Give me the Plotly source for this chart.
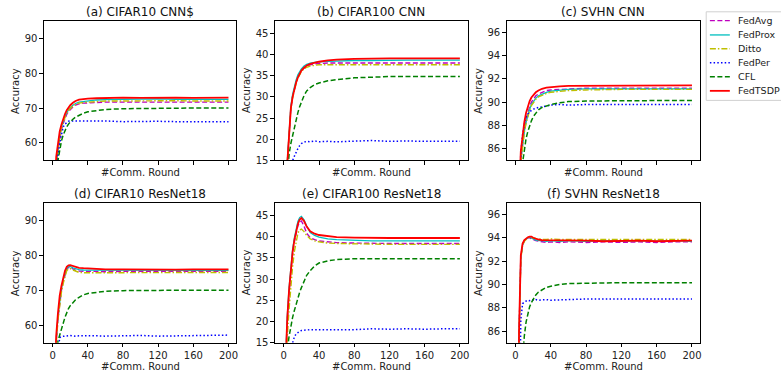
import plotly.graph_objects as go

W, H = 783, 380

# ---------------- data ----------------
ROUNDS = [1, 2, 4, 6, 8, 10, 12, 14, 16, 18, 20, 23, 26, 30, 35, 40, 50, 60, 80, 100, 120, 140, 160, 180, 200]
METHODS = ["FedAvg", "FedProx", "Ditto", "FedPer", "CFL", "FedTSDP"]
PANEL_TITLES = ["(a) CIFAR10 CNN$", "(b) CIFAR100 CNN", "(c) SVHN CNN",
                "(d) CIFAR10 ResNet18", "(e) CIFAR100 ResNet18", "(f) SVHN ResNet18"]
X_TICKS = [0, 40, 80, 120, 160, 200]
Y_TICKS_CIFAR10 = [60, 70, 80, 90]
Y_TICKS_CIFAR100 = [15, 20, 25, 30, 35, 40, 45]
Y_TICKS_SVHN = [86, 88, 90, 92, 94, 96]

# (a) CIFAR10 CNN
a_fedavg = [27, 41, 53, 58, 61.5, 63.8, 65.6, 67, 68.2, 69, 69.6, 70.3, 70.8, 71.2, 71.4, 71.5, 71.6, 71.7, 71.7, 71.7, 71.8, 71.7, 71.7, 71.7, 71.7]
a_fedprox = [28, 42, 54, 59, 62.3, 64.5, 66.2, 67.6, 68.7, 69.5, 70.1, 70.8, 71.3, 71.7, 71.9, 72.1, 72.3, 72.4, 72.5, 72.5, 72.6, 72.5, 72.5, 72.5, 72.5]
a_ditto = [27, 41, 53.5, 58.5, 62, 64.2, 66, 67.4, 68.5, 69.3, 69.9, 70.6, 71.0, 71.4, 71.6, 71.7, 71.9, 72.0, 72.0, 72.1, 72.0, 72.1, 72.0, 72.0, 72.0]
a_fedper = [15, 25, 45, 56.5, 60, 62.8, 64.6, 65.4, 65.9, 66.2, 66.3, 66.3, 66.4, 66.3, 66.2, 66.2, 66.2, 66.3, 66.1, 66.2, 66.2, 66.1, 66.2, 66.1, 66.1]
a_cfl = [20, 30, 45, 55, 58.5, 60.6, 62.3, 63.6, 64.6, 65.4, 66, 66.8, 67.4, 68, 68.5, 68.9, 69.3, 69.6, 69.8, 69.9, 69.9, 70, 70, 70, 70]
a_fedtsdp = [30, 45, 56, 60.5, 63.3, 65.3, 67, 68.3, 69.4, 70.2, 70.8, 71.5, 72.0, 72.4, 72.6, 72.7, 72.8, 72.9, 73.0, 72.9, 73.0, 73.0, 72.9, 73.0, 73.0]

# (b) CIFAR100 CNN
b_fedavg = [5, 8, 15.2, 21.8, 27.2, 30, 32, 33.4, 34.6, 35.5, 36.2, 36.8, 37.2, 37.6, 37.8, 37.9, 38.0, 38.0, 38.0, 38.0, 38.0, 38.0, 38.0, 38.0, 38.0]
b_fedprox = [5, 8, 15.8, 22.5, 27.8, 30.6, 32.6, 34, 35.2, 36, 36.6, 37.3, 37.7, 38.0, 38.2, 38.3, 38.4, 38.5, 38.6, 38.6, 38.7, 38.7, 38.7, 38.7, 38.7]
b_ditto = [5, 8, 15, 21.5, 27, 29.8, 31.8, 33.2, 34.4, 35.3, 36, 36.6, 37.0, 37.3, 37.5, 37.6, 37.6, 37.6, 37.6, 37.6, 37.6, 37.6, 37.6, 37.6, 37.6]
b_fedper = [3, 5, 8, 10.5, 13, 15, 16, 17, 17.8, 18.5, 19, 19.3, 19.5, 19.4, 19.6, 19.4, 19.5, 19.4, 19.6, 19.7, 19.5, 19.6, 19.5, 19.5, 19.5]
b_cfl = [3, 6, 13, 16.5, 19, 21, 22.6, 24.5, 26.3, 27.7, 28.9, 30.3, 31.4, 32.2, 32.9, 33.3, 33.8, 34.1, 34.5, 34.7, 34.8, 34.8, 34.8, 34.8, 34.8]
b_fedtsdp = [5, 8, 15.5, 22, 27.3, 30, 32, 33.4, 34.6, 35.5, 36.2, 36.9, 37.4, 37.8, 38.1, 38.3, 38.6, 38.8, 39.0, 39.1, 39.1, 39.1, 39.1, 39.1, 39.1]

# (c) SVHN CNN
c_fedavg = [68, 73, 80, 85.2, 86.7, 87.7, 88.5, 89.1, 89.6, 90.0, 90.25, 90.55, 90.7, 90.85, 91.0, 91.05, 91.1, 91.15, 91.2, 91.2, 91.2, 91.2, 91.2, 91.2, 91.2]
c_fedprox = [68, 73, 80, 85, 86.5, 87.5, 88.3, 88.9, 89.4, 89.8, 90.05, 90.35, 90.55, 90.7, 90.85, 90.95, 91.05, 91.1, 91.15, 91.15, 91.15, 91.15, 91.15, 91.15, 91.15]
c_ditto = [68, 73, 80, 84.8, 86.4, 87.4, 88.2, 88.8, 89.3, 89.7, 89.95, 90.25, 90.45, 90.6, 90.75, 90.85, 90.95, 91.0, 91.05, 91.1, 91.1, 91.1, 91.1, 91.1, 91.1]
c_fedper = [70, 76, 82, 85.6, 87.2, 88.1, 88.7, 89.0, 89.2, 89.3, 89.4, 89.5, 89.55, 89.6, 89.7, 89.75, 89.8, 89.75, 89.8, 89.8, 89.75, 89.8, 89.8, 89.8, 89.8]
c_cfl = [60, 66, 75, 81, 84.8, 85.9, 86.9, 87.5, 88, 88.4, 88.75, 89.1, 89.35, 89.55, 89.7, 89.8, 89.95, 90.05, 90.1, 90.12, 90.15, 90.15, 90.15, 90.15, 90.15]
c_fedtsdp = [70, 75, 82, 85.8, 87.2, 88.3, 89.1, 89.7, 90.1, 90.4, 90.6, 90.85, 91.0, 91.15, 91.25, 91.3, 91.35, 91.4, 91.4, 91.45, 91.45, 91.4, 91.45, 91.45, 91.45]

# (d) CIFAR10 ResNet18
d_fedavg = [33, 43, 55, 62, 67, 70, 72.6, 74.7, 76, 76.5, 76.6, 76.1, 75.7, 75.5, 75.4, 75.4, 75.4, 75.3, 75.4, 75.4, 75.3, 75.4, 75.4, 75.3, 75.4]
d_fedprox = [33, 43, 55.5, 62.5, 67.5, 70.5, 73, 75, 76.2, 76.7, 76.8, 76.4, 76.1, 75.9, 75.8, 75.8, 75.7, 75.7, 75.7, 75.7, 75.6, 75.7, 75.7, 75.6, 75.7]
d_ditto = [32, 42, 54.5, 61.5, 66.5, 69.5, 72, 74.2, 75.6, 76.1, 76.2, 75.8, 75.4, 75.1, 75.0, 75.0, 75.1, 75.0, 75.1, 75.0, 75.0, 75.1, 75.0, 75.0, 75.1]
d_fedper = [10, 15, 35, 52, 56.5, 56.8, 56.9, 57.0, 57.1, 57.0, 57.1, 57.0, 56.9, 57.0, 57.1, 57.0, 57.0, 56.9, 57.0, 57.1, 56.9, 57.0, 57.1, 57.0, 57.2]
d_cfl = [20, 30, 45, 55.5, 57, 58.6, 60.6, 62.3, 63.7, 64.8, 65.6, 66.6, 67.3, 68, 68.7, 69.1, 69.5, 69.7, 69.9, 70, 70, 70, 70, 70, 70]
d_fedtsdp = [35, 45, 57, 63.5, 68.5, 71.3, 73.6, 75.6, 76.7, 77.1, 77.2, 76.9, 76.6, 76.4, 76.3, 76.2, 76.1, 76.0, 76.0, 75.9, 76.0, 75.9, 76.0, 75.9, 76.0]

# (e) CIFAR100 ResNet18
e_fedavg = [5, 11, 20, 27, 32, 36, 38.8, 41, 42.6, 43.4, 43.7, 42.5, 40.8, 39.8, 39.3, 39.0, 38.8, 38.6, 38.5, 38.4, 38.4, 38.4, 38.4, 38.4, 38.4]
e_fedprox = [5, 12, 21.5, 28, 33, 37, 39.7, 42, 43.6, 44.5, 44.8, 44, 42.5, 41.0, 40.3, 39.9, 39.5, 39.3, 39.1, 39.0, 39.0, 39.0, 39.0, 39.0, 39.0]
e_ditto = [4, 9, 16.5, 23, 28.5, 33, 36.5, 39.2, 40.8, 41.6, 41.8, 41.2, 40.3, 39.5, 39.0, 38.8, 38.5, 38.4, 38.3, 38.2, 38.2, 38.2, 38.2, 38.2, 38.2]
e_fedper = [3, 5, 8, 11, 13.5, 15, 16.4, 17.1, 17.5, 17.7, 17.9, 18, 18, 18.1, 18.1, 18.1, 18.2, 18.2, 18.1, 18.3, 18.2, 18.3, 18.2, 18.3, 18.3]
e_cfl = [3, 6, 13.5, 16.5, 19, 21, 22.6, 24.2, 25.7, 26.9, 28, 29.6, 30.9, 32, 33.1, 33.8, 34.3, 34.6, 34.8, 34.8, 34.8, 34.8, 34.8, 34.8, 34.8]
e_fedtsdp = [5, 12, 21, 27.5, 32.5, 36.4, 39.2, 41.5, 43, 44, 44.4, 43.7, 42.4, 41.3, 40.7, 40.4, 40.1, 39.9, 39.8, 39.7, 39.7, 39.7, 39.7, 39.7, 39.7]

# (f) SVHN ResNet18
f_fedavg = [60, 70, 85.8, 92.4, 93.4, 93.75, 93.9, 94.0, 94.0, 93.95, 93.85, 93.75, 93.7, 93.65, 93.6, 93.65, 93.6, 93.65, 93.6, 93.65, 93.6, 93.65, 93.6, 93.65, 93.65]
f_fedprox = [60, 70, 85.5, 92.3, 93.4, 93.75, 93.9, 94.0, 94.05, 94.0, 93.9, 93.8, 93.75, 93.75, 93.7, 93.75, 93.7, 93.75, 93.7, 93.75, 93.7, 93.75, 93.7, 93.75, 93.7]
f_ditto = [60, 70, 85.5, 92.2, 93.3, 93.7, 93.9, 94.0, 94.05, 94.05, 94.0, 93.95, 93.9, 93.85, 93.85, 93.9, 93.85, 93.85, 93.9, 93.85, 93.85, 93.9, 93.85, 93.85, 93.85]
f_fedper = [50, 60, 75, 87, 88.35, 88.5, 88.6, 88.65, 88.6, 88.7, 88.65, 88.7, 88.65, 88.7, 88.7, 88.65, 88.7, 88.7, 88.75, 88.75, 88.7, 88.75, 88.7, 88.75, 88.75]
f_cfl = [50, 60, 72, 79, 83.5, 85.6, 86.8, 87.6, 88.1, 88.45, 88.75, 89.1, 89.35, 89.55, 89.75, 89.85, 90.0, 90.08, 90.12, 90.15, 90.15, 90.15, 90.15, 90.15, 90.15]
f_fedtsdp = [60, 70, 86, 92.5, 93.5, 93.8, 93.95, 94.05, 94.1, 94.1, 94.0, 93.9, 93.85, 93.8, 93.8, 93.75, 93.8, 93.75, 93.75, 93.7, 93.75, 93.75, 93.7, 93.75, 93.75]

PANELS = [
    [a_fedavg, a_fedprox, a_ditto, a_fedper, a_cfl, a_fedtsdp],
    [b_fedavg, b_fedprox, b_ditto, b_fedper, b_cfl, b_fedtsdp],
    [c_fedavg, c_fedprox, c_ditto, c_fedper, c_cfl, c_fedtsdp],
    [d_fedavg, d_fedprox, d_ditto, d_fedper, d_cfl, d_fedtsdp],
    [e_fedavg, e_fedprox, e_ditto, e_fedper, e_cfl, e_fedtsdp],
    [f_fedavg, f_fedprox, f_ditto, f_fedper, f_cfl, f_fedtsdp],
]
Y_TICKS = [Y_TICKS_CIFAR10, Y_TICKS_CIFAR100, Y_TICKS_SVHN] * 2

# ---------------- style ----------------
Y_RANGES = [[55, 95], [15, 48], [85, 97]] * 2
X_RANGE = [-10, 209]
COLORS = ["rgb(191,0,191)", "rgb(0,191,191)", "rgb(191,191,0)", "rgb(0,0,255)", "rgb(0,128,0)", "rgb(255,0,0)"]
DASHES = ["5px,2.5px", "solid", "6px,2px,1.5px,2px", "1.5px,2.2px", "5px,2.5px", "solid"]
WIDTHS = [1.4, 1.3, 1.4, 1.5, 1.5, 1.8]

# pixel geometry of each axes box (left, right) and rows (top, bottom)
COLS_PX = [(44, 237), (275.7, 469), (508, 701.7)]
ROWS_PX = [(21, 163), (206, 348.3)]

FONT = "DejaVu Sans"

fig = go.Figure()


def px_x(x):
    return x / W


def px_y(y):
    return 1 - y / H


annotations = []
shapes = []
for p in range(6):
    r, c = divmod(p, 3)
    suffix = "" if p == 0 else str(p + 1)
    xa, ya = "x" + suffix, "y" + suffix
    for m in range(6):
        fig.add_trace(go.Scatter(
            x=ROUNDS, y=PANELS[p][m], mode="lines", name=METHODS[m],
            xaxis=xa, yaxis=ya, showlegend=False,
            line=dict(color=COLORS[m], dash=DASHES[m], width=WIDTHS[m]),
            hoverinfo="skip"))
    l, rr = COLS_PX[c]
    t, b = ROWS_PX[r]
    axis_common = dict(showline=True, mirror=True, linecolor="black", linewidth=1,
                       ticks="outside", ticklen=3.5, tickwidth=0.8, tickcolor="black",
                       showgrid=False, zeroline=False,
                       tickfont=dict(family=FONT, size=10, color="#222"))
    fig.layout["xaxis" + suffix] = dict(
        domain=[px_x(l), px_x(rr)], anchor=ya, range=X_RANGE,
        tickvals=X_TICKS, showticklabels=(r == 1), ticklabelstandoff=0, **axis_common)
    fig.layout["yaxis" + suffix] = dict(
        domain=[px_y(b), px_y(t)], anchor=xa, range=Y_RANGES[p],
        tickvals=Y_TICKS[p], **axis_common)
    # panel title
    annotations.append(dict(text=PANEL_TITLES[p], x=px_x((l + rr) / 2), y=px_y(t - 9),
                            xref="paper", yref="paper", showarrow=False,
                            font=dict(family=FONT, size=12, color="#111"),
                            xanchor="center", yanchor="middle"))
    # y label
    annotations.append(dict(text="Accuracy", x=px_x(l - 28.5), y=px_y((t + b) / 2),
                            xref="paper", yref="paper", showarrow=False, textangle=-90,
                            font=dict(family=FONT, size=10, color="#222"),
                            xanchor="center", yanchor="middle"))
    # x label
    annotations.append(dict(text="#Comm. Round", x=px_x((l + rr) / 2),
                            y=px_y(b + (12 if r == 0 else 24)),
                            xref="paper", yref="paper", showarrow=False,
                            font=dict(family=FONT, size=10, color="#222"),
                            xanchor="center", yanchor="middle"))

# legend (drawn as a matplotlib-style box whose right side is cut by the page edge)
LEG_LEFT, LEG_TOP, LEG_BOTTOM = 708, 12, 102
box_path = "M {r} {t} L {l} {t} L {l} {b} L {r} {b}".format(
    r=px_x(W), l=px_x(LEG_LEFT), t=px_y(LEG_TOP), b=px_y(LEG_BOTTOM))
shapes.append(dict(type="path", xref="paper", yref="paper", path=box_path,
                   line=dict(color="#d0d0d0", width=1), layer="above"))
LEG_ROWS = [21, 35.5, 49.5, 63.7, 78, 92.3]
for m in range(6):
    shapes.append(dict(type="line", xref="paper", yref="paper",
                       x0=px_x(711.7), x1=px_x(731.7), y0=px_y(LEG_ROWS[m]), y1=px_y(LEG_ROWS[m]),
                       line=dict(color=COLORS[m], dash=DASHES[m], width=WIDTHS[m]), layer="above"))
    annotations.append(dict(text=METHODS[m], x=px_x(737.5), y=px_y(LEG_ROWS[m]),
                            xref="paper", yref="paper", showarrow=False,
                            font=dict(family=FONT, size=9.5, color="#222"),
                            xanchor="left", yanchor="middle"))

fig.update_layout(
    width=W, height=H, margin=dict(l=0, r=0, t=0, b=0),
    paper_bgcolor="white", plot_bgcolor="white",
    annotations=annotations, shapes=shapes,
    showlegend=False,
    font=dict(family=FONT),
)

PAGE_FIX = ("document.documentElement.style.margin='0px';"
            "document.documentElement.style.overflow='hidden';"
            "document.body.style.margin='0px';document.body.style.padding='0px';"
            "document.body.style.overflow='hidden';")
fig.write_html("out.html", config={"displayModeBar": False}, post_script=PAGE_FIX)
